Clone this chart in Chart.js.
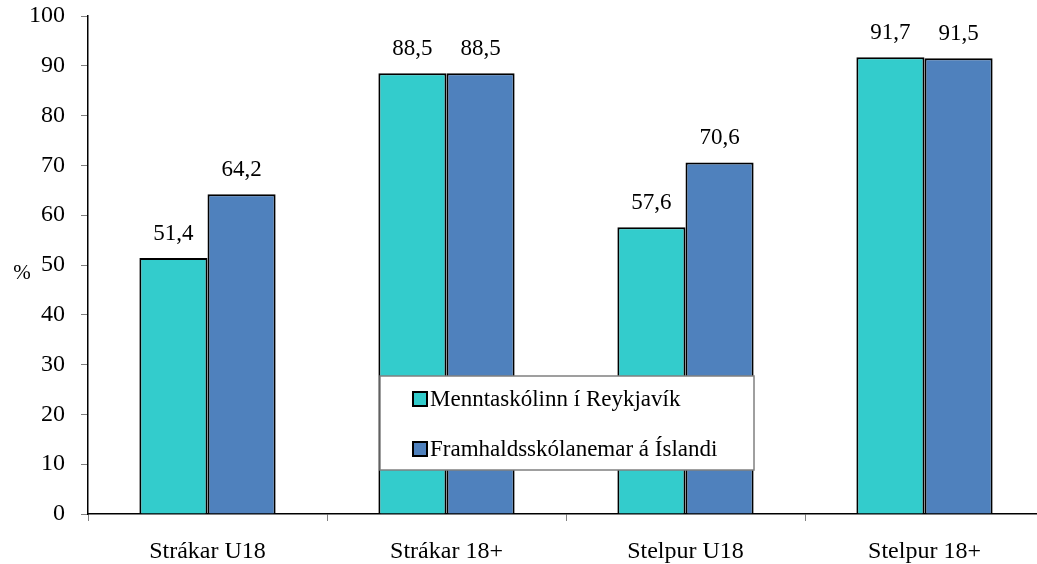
<!DOCTYPE html>
<html><head><meta charset="utf-8">
<script src="https://cdn.jsdelivr.net/npm/chart.js@4/dist/chart.umd.min.js"></script>
<style>
html,body{margin:0;padding:0;background:#fff;overflow:hidden;}
#wrap{width:1037px;height:564px;overflow:hidden;position:relative;}
#box{width:1046px;height:564px;position:absolute;left:0;top:0;}
</style></head>
<body><div id="wrap"><div id="box"><canvas id="c"></canvas></div></div>
<script>
const categories = ["Strákar U18", "Strákar 18+", "Stelpur U18", "Stelpur 18+"];
const seriesNames = ["Menntaskólinn í Reykjavík", "Framhaldsskólanemar á Íslandi"];
const mrValues = [51.4, 88.5, 57.6, 91.7];
const allValues = [64.2, 88.5, 70.6, 91.5];
const yTicks = [0,10,20,30,40,50,60,70,80,90,100];
const colors = ["#33CCCC", "#4F81BD"];
const FONT = "'Liberation Serif', 'Times New Roman', serif";

const labelPlugin = {
  id: 'vals',
  afterDatasetsDraw(chart) {
    const ctx = chart.ctx;
    ctx.save();
    ctx.font = "23px " + FONT;
    ctx.fillStyle = "#000";
    ctx.textAlign = "center";
    ctx.textBaseline = "alphabetic";
    chart.data.datasets.forEach((ds, i) => {
      chart.getDatasetMeta(i).data.forEach((bar, j) => {
        ctx.fillText(ds.data[j].toFixed(1).replace('.', ','), bar.x, bar.y - 18);
      });
    });
    // % title
    ctx.font = "21px " + FONT;
    ctx.textBaseline = "middle";
    ctx.fillText("%", 22, 273);
    ctx.restore();
  },
  afterDraw(chart) {
    const ctx = chart.ctx;
    const x0 = 380, y0 = 376, w = 374, h = 94;
    ctx.save();
    ctx.fillStyle = "#fff";
    ctx.fillRect(x0, y0, w, h);
    ctx.strokeStyle = "#808080";
    ctx.lineWidth = 1.5;
    ctx.strokeRect(x0, y0, w, h);
    ctx.font = "23px " + FONT;
    ctx.textBaseline = "middle";
    ctx.textAlign = "left";
    chart.data.datasets.forEach((ds, i) => {
      const cy = 399 + i * 50;
      ctx.fillStyle = ds.backgroundColor;
      ctx.fillRect(413, cy - 7, 14, 14);
      ctx.strokeStyle = "#000";
      ctx.lineWidth = 2;
      ctx.strokeRect(413, cy - 7, 14, 14);
      ctx.fillStyle = "#000";
      ctx.fillText(ds.label, 430, cy + 1);
    });
    ctx.restore();
  }
};

new Chart(document.getElementById('c'), {
  type: 'bar',
  data: {
    labels: categories,
    datasets: [
      { label: seriesNames[0], data: mrValues, backgroundColor: colors[0], borderColor: "#000", borderWidth: 2, borderSkipped: 'bottom' },
      { label: seriesNames[1], data: allValues, backgroundColor: colors[1], borderColor: "#000", borderWidth: 2, borderSkipped: 'bottom' }
    ]
  },
  options: {
    responsive: true,
    maintainAspectRatio: false,
    animation: false,
    events: [],
    layout: { padding: { left: 0, right: 2, top: 16, bottom: 0 } },
    datasets: { bar: { categoryPercentage: 0.57, barPercentage: 1.0 } },
    plugins: { legend: { display: false }, tooltip: { enabled: false } },
    scales: {
      x: {
        grid: { display: true, drawOnChartArea: false, drawTicks: true, tickLength: 7, tickColor: "#808080", offset: true },
        border: { color: "#000", width: 1.5 },
        ticks: { color: "#000", font: { family: FONT, size: 24 }, padding: 16, maxRotation: 0 },
        afterFit(s) { s.height = 50; s.paddingLeft = 0; s.paddingRight = 0; }
      },
      y: {
        min: 0, max: 100,
        afterBuildTicks(s) { s.ticks = yTicks.map(v => ({ value: v })); },
        grid: { display: true, drawOnChartArea: false, drawTicks: true, tickLength: 7, tickColor: "#808080" },
        border: { color: "#000", width: 1.5 },
        ticks: { color: "#000", font: { family: FONT, size: 24 }, padding: 16 },
        afterFit(s) { s.width = 88; s.paddingTop = 0; s.paddingBottom = 0; }
      }
    }
  },
  plugins: [labelPlugin]
});
</script>
</body></html>
